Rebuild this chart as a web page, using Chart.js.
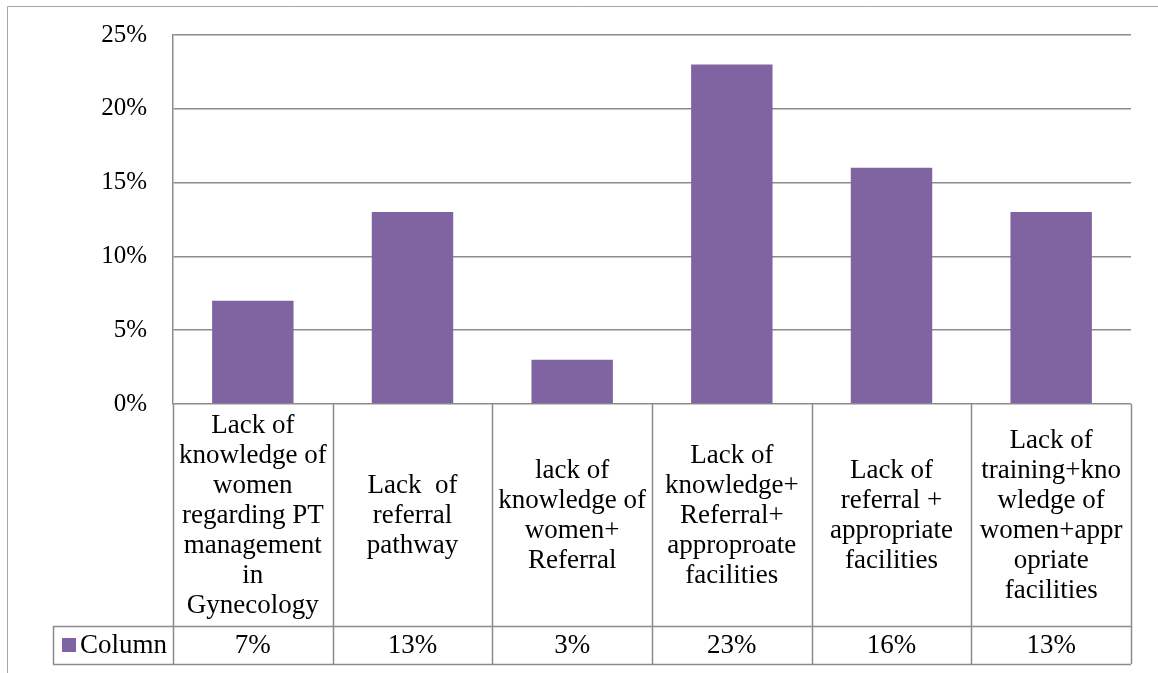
<!DOCTYPE html>
<html>
<head>
<meta charset="utf-8">
<script src="https://cdn.jsdelivr.net/npm/chart.js@4/dist/chart.umd.min.js"></script>
<style>
  html, body { margin: 0; padding: 0; background: #fff; }
  canvas { display: block; }
</style>
</head>
<body>
<canvas id="chart" width="1158" height="673"></canvas>
<script>
// categories (already broken into lines like the data table shows them)
const categories = [
  ['Lack of', 'knowledge of', 'women', 'regarding PT', 'management', 'in', 'Gynecology'],
  ['Lack  of', 'referral', 'pathway'],
  ['lack of', 'knowledge of', 'women+', 'Referral'],
  ['Lack of', 'knowledge+', 'Referral+', 'approproate', 'facilities'],
  ['Lack of', 'referral +', 'appropriate', 'facilities'],
  ['Lack of', 'training+kno', 'wledge of', 'women+appr', 'opriate', 'facilities']
]
const seriesName = 'Column'
const values = [7, 13, 3, 23, 16, 13]
const yTicks = [0, 5, 10, 15, 20, 25]

const FONT = '"Liberation Serif", "Times New Roman", serif'
const BAR = '#8064A2'
const LINE = '#8c8c8c'

// data table under the plot
const tablePlugin = {
  id: 'dataTable',
  beforeDraw: chart => {
    const { ctx } = chart
    ctx.save()
    ctx.fillStyle = '#fff'
    ctx.fillRect(0, 0, chart.width, chart.height)
    // outer chart frame
    ctx.strokeStyle = '#a6a6a6'
    ctx.lineWidth = 1
    ctx.beginPath()
    ctx.moveTo(7.5, chart.height)
    ctx.lineTo(7.5, 6.5)
    ctx.lineTo(chart.width, 6.5)
    ctx.stroke()
    ctx.restore()
  },
  afterDraw: chart => {
    const { ctx, chartArea } = chart
    const x = chart.scales.x
    const n = categories.length
    const step = x.getPixelForValue(1) - x.getPixelForValue(0)
    const top = chartArea.bottom
    const labelRowH = 222
    const valueRowH = 38
    const legendLeft = 53
    const rowY = top + labelRowH
    const bottom = rowY + valueRowH
    const lineH = 30

    ctx.save()
    ctx.strokeStyle = LINE
    ctx.lineWidth = 1.5
    ctx.beginPath()
    for (let i = 0; i <= n; i++) {
      const bx = Math.round(x.getPixelForValue(i) - step / 2) + 0.5
      ctx.moveTo(bx, top)
      ctx.lineTo(bx, bottom)
    }
    ctx.moveTo(legendLeft + 0.5, rowY)
    ctx.lineTo(legendLeft + 0.5, bottom)
    ctx.moveTo(legendLeft, rowY + 0.5)
    ctx.lineTo(chartArea.right, rowY + 0.5)
    ctx.moveTo(legendLeft, bottom + 0.5)
    ctx.lineTo(chartArea.right, bottom + 0.5)
    ctx.stroke()

    ctx.fillStyle = '#000'
    ctx.font = `27px ${FONT}`
    ctx.textAlign = 'center'
    ctx.textBaseline = 'middle'
    categories.forEach((lines, i) => {
      const cx = x.getPixelForValue(i)
      const mid = top + labelRowH / 2 + 1
      const start = mid - (lines.length - 1) * lineH / 2
      lines.forEach((t, k) => ctx.fillText(t, cx, start + k * lineH))
      ctx.fillText(values[i] + '%', cx, rowY + valueRowH / 2 + 1)
    })

    // legend key
    ctx.fillStyle = BAR
    ctx.fillRect(62, rowY + 12, 14, 14)
    ctx.fillStyle = '#000'
    ctx.textAlign = 'left'
    ctx.fillText(seriesName, 80, rowY + valueRowH / 2 + 1)
    ctx.restore()
  }
}

const draw = () => new Chart(document.getElementById('chart'), {
  type: 'bar',
  data: {
    labels: categories,
    datasets: [{
      label: seriesName,
      data: values,
      backgroundColor: BAR,
      borderWidth: 0,
      barPercentage: 0.51,
      categoryPercentage: 1
    }]
  },
  options: {
    responsive: false,
    devicePixelRatio: 1,
    animation: false,
    layout: { padding: { left: 0, right: 27, top: 35, bottom: 269 } },
    plugins: { legend: { display: false }, tooltip: { enabled: false } },
    scales: {
      x: { display: false },
      y: {
        min: 0,
        max: 25,
        afterFit: scale => {
          scale.width = 173
          // tick padding otherwise pushes the plot top down
          scale.paddingTop = 0
          scale.paddingBottom = 0
        },
        afterBuildTicks: scale => { scale.ticks = yTicks.map(v => ({ value: v })) },
        ticks: {
          padding: 26,
          color: '#000',
          font: { family: FONT, size: 25 },
          callback: v => v + '%'
        },
        grid: { color: LINE, lineWidth: 1.5, drawTicks: false },
        border: { color: LINE, width: 1.5 }
      }
    }
  },
  plugins: [tablePlugin]
})

document.fonts.load('26px "Liberation Serif"').then(draw, draw)
</script>
</body>
</html>
